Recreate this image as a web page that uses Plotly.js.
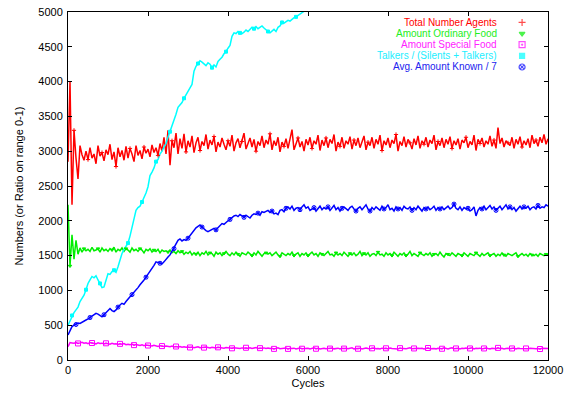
<!DOCTYPE html>
<html><head><meta charset="utf-8">
<script src="https://cdn.plot.ly/plotly-3.0.1.min.js"></script>
<style>html,body{margin:0;padding:0;background:#fff}#chart{width:566px;height:394px}</style>
</head><body><div id="chart"></div>
<script>
// x grid: one sample every 50 cycles
const cycles = Array.from({length: 241}, (_, i) => i * 50);

const seriesNames = ["Total Number Agents","Amount Ordinary Food","Amount Special Food","Talkers / (Silents + Talkers)","Avg. Amount Known / 7"];

const totalAgents = [
2850,4000,2230,3300,2900,2600,3080,2950,2870,3000,
2880,3050,2900,2960,2820,3080,2930,2980,2860,3020,
2950,3100,2880,2990,2780,3050,2920,3010,2870,3070,
2900,3040,2960,2850,3080,2940,3010,2890,3060,2970,
3030,2920,3090,2980,3050,2940,3110,3000,3200,2960,
3300,2800,3150,3050,3260,2960,3180,3040,3250,2990,
3150,3060,3220,2980,3120,3200,3010,3140,3080,3240,
3030,3160,3090,3210,2990,3130,3060,3190,3100,3020,
3150,3070,3230,3000,3120,3180,3050,3140,3260,3030,
3110,3190,3060,3170,3000,3140,3080,3220,3050,3160,
3100,3250,3020,3150,3080,3200,2990,3130,3070,3180,
3040,3160,3310,3020,3120,3190,3060,3140,3000,3170,
3090,3200,3040,3150,3100,3230,3010,3160,3080,3190,
3050,3170,3110,3240,3000,3130,3070,3200,3040,3150,
3100,3210,3030,3160,3080,3190,3050,3140,3220,3020,
3130,3080,3200,3040,3170,3100,3230,3010,3150,3090,
3190,3050,3160,3110,3240,3000,3140,3080,3210,3060,
3170,3120,3030,3180,3090,3220,3040,3150,3100,3200,
3060,3160,3110,3230,3020,3140,3080,3190,3050,3170,
3100,3210,3040,3150,3090,3180,3030,3160,3120,3200,
3050,3140,3090,3230,3010,3170,3110,3190,3060,3150,
3100,3220,3070,3160,3040,3340,3110,3190,3060,3150,
3120,3080,3200,3040,3170,3100,3210,3060,3150,3090,
3180,3050,3230,3110,3160,3070,3200,3120,3240,3100,3180];

const ordinaryFood = [
2230,1350,1800,1450,1720,1520,1610,1550,1600,1570,
1590,1560,1620,1570,1580,1600,1550,1610,1570,1590,
1560,1600,1580,1620,1550,1590,1570,1610,1560,1600,
1580,1550,1610,1570,1590,1560,1600,1580,1540,1590,
1570,1600,1550,1580,1560,1590,1540,1580,1560,1570,
1550,1580,1540,1560,1530,1570,1540,1560,1520,1550,
1530,1560,1510,1540,1520,1550,1500,1540,1520,1560,
1510,1540,1530,1490,1550,1520,1540,1500,1530,1560,
1520,1500,1540,1510,1550,1520,1490,1540,1530,1510,
1550,1520,1500,1540,1510,1560,1520,1490,1530,1540,
1520,1540,1500,1530,1550,1510,1490,1540,1520,1500,
1530,1510,1550,1500,1520,1540,1490,1530,1510,1540,
1500,1520,1550,1510,1530,1490,1540,1520,1500,1530,
1560,1510,1520,1490,1540,1510,1530,1500,1550,1520,
1490,1530,1510,1540,1500,1520,1560,1500,1530,1510,
1540,1490,1520,1530,1500,1550,1510,1520,1490,1540,
1510,1530,1500,1550,1520,1490,1530,1510,1540,1500,
1520,1560,1500,1530,1510,1490,1540,1520,1500,1530,
1510,1540,1490,1520,1530,1500,1550,1510,1480,1530,
1520,1500,1540,1510,1490,1530,1520,1500,1540,1510,
1490,1530,1510,1500,1540,1520,1490,1530,1500,1520,
1540,1500,1510,1530,1490,1520,1500,1540,1510,1490,
1530,1510,1500,1520,1540,1490,1510,1530,1500,1520,
1490,1530,1510,1500,1520,1490,1530,1510,1500,1520,1510];

const specialFood = [
190,250,245,240,252,238,246,255,242,248,
236,250,244,240,232,246,238,242,230,240,
236,228,240,230,234,222,232,226,236,220,
226,218,230,214,222,216,210,220,206,214,
208,212,200,210,204,196,206,200,194,202,
196,190,200,188,194,186,192,184,190,182,
188,180,186,178,184,190,176,182,178,186,
180,174,184,178,172,182,176,180,170,178,
174,180,168,176,172,178,166,174,170,176,
168,174,166,172,178,164,170,168,174,166,
172,164,170,160,168,174,162,168,166,172,
160,168,164,170,158,166,172,162,168,164,
170,160,166,174,162,168,158,166,170,162,
168,164,172,160,166,170,158,168,164,170,
162,168,174,160,166,162,170,158,166,172,
164,160,168,172,162,166,158,170,164,168,
160,172,166,162,168,158,170,164,166,160,
168,174,162,166,160,170,164,168,158,166,
172,162,168,164,160,170,166,162,174,164,
160,168,176,162,166,170,160,168,164,172,
162,166,174,160,168,164,170,158,166,172,
164,160,170,166,162,174,164,168,160,166,
170,162,166,172,160,168,164,162,170,166,
160,168,164,170,162,166,158,168,164,162,166];

const talkersRatio = [
500,560,640,680,720,760,840,880,930,1010,
1100,1150,1200,1180,1210,1150,1100,1040,1050,1150,
1240,1230,1270,1290,1260,1340,1440,1530,1590,1640,
1680,1780,1900,2000,2150,2190,2210,2270,2330,2400,
2490,2650,2700,2760,2850,2880,2960,3000,3060,3110,
3200,3280,3350,3460,3530,3630,3660,3700,3760,3820,
3860,3910,3960,4150,4220,4260,4300,4280,4250,4230,
4270,4250,4200,4240,4210,4290,4320,4350,4400,4430,
4480,4520,4650,4700,4690,4720,4700,4690,4710,4740,
4720,4750,4780,4760,4790,4760,4780,4800,4770,4740,
4720,4700,4730,4750,4720,4780,4800,4850,4840,4860,
4880,4870,4900,4920,4930,4950,4970,4990,5000,5030,5060];

const avgKnown = [
360,430,480,500,510,530,525,545,560,575,
590,610,630,645,670,660,640,620,650,680,
720,740,710,695,720,760,790,815,800,840,
880,910,940,970,1000,1040,1080,1110,1150,1190,
1230,1270,1310,1360,1410,1400,1390,1380,1410,1450,
1480,1510,1560,1600,1660,1720,1740,1710,1730,1720,
1750,1790,1830,1870,1900,1920,1940,1910,1880,1860,
1845,1860,1880,1890,1870,1900,1930,1960,1950,1980,
2000,2020,2050,2070,2080,2060,2090,2070,2050,2080,
2060,2040,2080,2100,2090,2110,2080,2130,2120,2130,
2150,2120,2140,2100,2110,2090,2150,2160,2130,2180,
2200,2170,2210,2150,2180,2190,2160,2200,2230,2180,
2200,2150,2170,2190,2140,2180,2210,2160,2190,2170,
2200,2150,2180,2220,2160,2190,2140,2180,2200,2170,
2150,2190,2210,2170,2140,2180,2200,2160,2190,2230,
2170,2140,2190,2160,2200,2180,2150,2210,2170,2190,
2230,2160,2180,2140,2200,2170,2190,2150,2210,2180,
2170,2200,2150,2190,2160,2210,2180,2140,2190,2170,
2200,2160,2180,2210,2150,2190,2170,2200,2160,2180,
2210,2170,2190,2240,2180,2160,2200,2150,2190,2170,
2180,2140,2160,2200,2070,2150,2190,2170,2210,2160,
2190,2220,2170,2200,2150,2180,2210,2160,2190,2230,
2170,2200,2160,2190,2140,2180,2210,2170,2200,2180,
2210,2160,2190,2200,2170,2220,2180,2200,2190,2230,2210];

const colors = ["#ff0000","#00ee00","#ff00ff","#00ffff","#0000ff"];
const textColors = ["#ff0000","#22ee22","#ff22ff","#22eeff","#2222ee"];
const symbols = ["cross-thin-open","triangle-down","square-open-dot","square","circle-x-open"];
const allY = [totalAgents, ordinaryFood, specialFood, talkersRatio, avgKnown];
const markerStep = 7;
const markerOffset = [3,1,5,2,4];
const markerSize = [3,3,5,3,4];

const traces = [];
allY.forEach((ys, k) => {
  const xs = cycles.slice(0, ys.length);
  traces.push({x: xs, y: ys, type: 'scatter', mode: 'lines', showlegend: false,
    line: {color: colors[k], width: 1.5}, hoverinfo: 'skip'});
});
allY.forEach((ys, k) => {
  const xs = cycles.slice(0, ys.length);
  const mx = [], my = [];
  for (let i = markerOffset[k]; i < ys.length; i += markerStep) { mx.push(xs[i]); my.push(ys[i]); }
  traces.push({x: mx, y: my, type: 'scatter', mode: 'markers', showlegend: false,
    marker: {color: colors[k], symbol: symbols[k], size: markerSize[k], line: {color: colors[k], width: 1}}, hoverinfo: 'skip'});
});

// legend keys drawn on an overlay axis spanning the plot area
const legY = [0.970, 0.938, 0.906, 0.874, 0.842];
traces.push({x: legY.map(() => 0.946), y: legY, xaxis: 'x2', yaxis: 'y2', type: 'scatter', mode: 'markers',
  showlegend: false, hoverinfo: 'skip',
  marker: {color: colors, symbol: symbols, size: [5,5,6,5,6], line: {color: colors, width: 1.2}}});

const annotations = seriesNames.map((n, k) => ({
  xref: 'paper', yref: 'paper', x: 0.898, y: legY[k], xanchor: 'right', yanchor: 'middle',
  text: n, showarrow: false, font: {family: 'Liberation Sans, Arial, sans-serif', size: 10, color: textColors[k]}
}));

const axisCommon = {showline: true, linecolor: '#000', linewidth: 1, mirror: 'allticks', ticks: 'inside',
  ticklen: 4, tickcolor: '#000', showgrid: false, zeroline: false,
  tickfont: {family: 'Liberation Sans, Arial, sans-serif', size: 11, color: '#000'}};

const layout = {
  width: 566, height: 394,
  margin: {l: 68, r: 18, t: 12, b: 34},
  paper_bgcolor: '#fff', plot_bgcolor: '#fff',
  showlegend: false,
  font: {family: 'Liberation Sans, Arial, sans-serif', size: 11, color: '#000'},
  xaxis: Object.assign({}, axisCommon, {range: [0, 12000], tickvals: [0,2000,4000,6000,8000,10000,12000],
    ticktext: ['0','2000','4000','6000','8000','10000','12000'],
    title: {text: 'Cycles', standoff: 4, font: {size: 11}}}),
  yaxis: Object.assign({}, axisCommon, {range: [0, 5000], dtick: 500, ticklabelstandoff: 2,
    title: {text: 'Numbers (or Ratio on range 0-1)', standoff: 12, font: {size: 11}}}),
  xaxis2: {overlaying: 'x', range: [0, 1], visible: false, fixedrange: true},
  yaxis2: {overlaying: 'y', range: [0, 1], visible: false, fixedrange: true},
  annotations: annotations
};

Plotly.newPlot('chart', traces, layout, {staticPlot: true, displayModeBar: false});
</script>
</body></html>
